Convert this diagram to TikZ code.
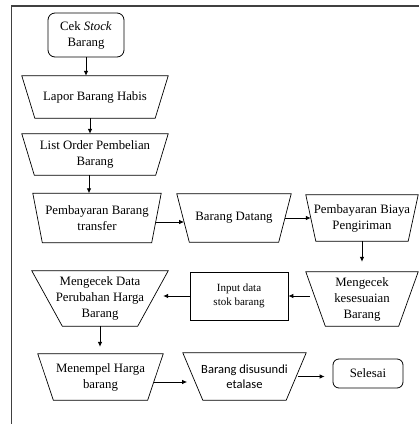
\documentclass[tikz,border=0pt]{standalone}
\usepackage{fontspec}
\setmainfont{Liberation Serif}
\newfontfamily\calibri{Carlito}
\usetikzlibrary{arrows.meta,positioning,calc}
\tikzset{
  proses/.style={rectangle, align=center, inner sep=0pt,
                 font=\fontsize{12.8}{16}\selectfont},
  garis/.style={draw, line width=0.7pt},
  ujung/.style={rectangle, rounded corners=7pt, draw, line width=0.8pt,
                align=center, font=\fontsize{12.8}{16}\selectfont},
  kotak/.style={rectangle, draw, line width=0.7pt, align=center,
                font=\fontsize{11}{13.5}\selectfont},
  ar/.style={-{Latex[length=5pt,width=4.5pt]}, line width=0.8pt},
}
% trapezium outline around a node: wide on top, #2 = inset of the bottom corners
\newcommand{\trap}[2]{\draw[garis] (#1.north west) -- (#1.north east)
   -- ([xshift=-#2pt]#1.south east) -- ([xshift=#2pt]#1.south west) -- cycle;}

\begin{document}
\begin{tikzpicture}[x=1pt,y=1pt]
\useasboundingbox (0,0) rectangle (419,-424);
% frame
\draw[line width=1.3pt, black!75] (11.5,-424) -- (11.5,-6) -- (419,-6);

\node[ujung,minimum width=76,minimum height=44] (cek) at (86,-35)
   {Cek \textit{Stock}\\Barang};
\node[proses,minimum width=146,minimum height=42] (lapor) at (95,-97)
   {Lapor Barang Habis};
\node[proses,minimum width=146,minimum height=41] (list) at (95,-154.5)
   {List Order Pembelian\\Barang};
\node[proses,minimum width=128,minimum height=49] (bayar) at (97,-218)
   {Pembayaran Barang\\transfer};
\node[proses,minimum width=114,minimum height=48] (datang) at (234,-218)
   {Barang Datang};
\node[proses,minimum width=112,minimum height=46] (biaya) at (362,-218)
   {Pembayaran Biaya\\Pengiriman};
\node[proses,minimum width=112,minimum height=54] (sesuai) at (362,-299)
   {Mengecek\\kesesuaian\\Barang};
\node[kotak,minimum width=98,minimum height=48] (input) at (239,-296)
   {Input data\\stok barang};
\node[proses,minimum width=136,minimum height=55] (data) at (100,-298.5)
   {Mengecek Data\\Perubahan Harga\\Barang};
\node[proses,minimum width=125,minimum height=46] (tempel) at (100.5,-377)
   {Menempel Harga\\barang};
\node[proses,minimum width=123,minimum height=47,
      font=\calibri\fontsize{12.5}{15}\selectfont] (susun) at (244.5,-376.5)
   {Barang disusundi\\etalase};
\node[ujung,rounded corners=6pt,minimum width=70,minimum height=29] (selesai) at (368,-373.5)
   {Selesai};

\trap{lapor}{13}
\trap{list}{12.5}
\trap{bayar}{9.5}
\trap{datang}{12.5}
\trap{biaya}{10}
\trap{sesuai}{19.5}
\trap{data}{30.5}
\trap{tempel}{15.5}
\trap{susun}{20}

% down the left column
\draw[ar] (cek.south) -- (cek.south |- lapor.north);
\draw[ar] ([xshift=-5pt]lapor.south) -- ([xshift=-5pt]list.north);
\draw[ar] ([xshift=-6pt]list.south) -- ([xshift=-6pt]list.south |- bayar.north);
% second row
\draw[ar] ([xshift=-5.5pt,yshift=-4pt]bayar.east) -- ([xshift=7.3pt,yshift=-4pt]datang.west);
\draw[ar] ([xshift=-6pt]datang.east) -- ([xshift=5pt]biaya.west);
\draw[ar,shorten >=10pt] (biaya.south) -- (sesuai.north);
% third row, back to the left
\draw[ar,shorten <=5pt] ([xshift=8.7pt,yshift=3pt]sesuai.west) -- ([yshift=3pt]sesuai.west -| input.east);
\draw[ar,shorten >=9pt] (input.west) -- ([xshift=-14pt]input.west -| data.east);
\draw[ar,shorten >=7pt] (data.south) -- (data.south |- tempel.north);
% last row
\draw[ar,shorten >=8pt] ([xshift=-9.4pt,yshift=-5pt]tempel.east) -- ([xshift=12.3pt,yshift=-5pt]tempel.east -| susun.west);
\draw[ar,shorten >=8pt] ([xshift=-8pt]susun.east) -- (susun.east -| selesai.west);
\end{tikzpicture}
\end{document}
